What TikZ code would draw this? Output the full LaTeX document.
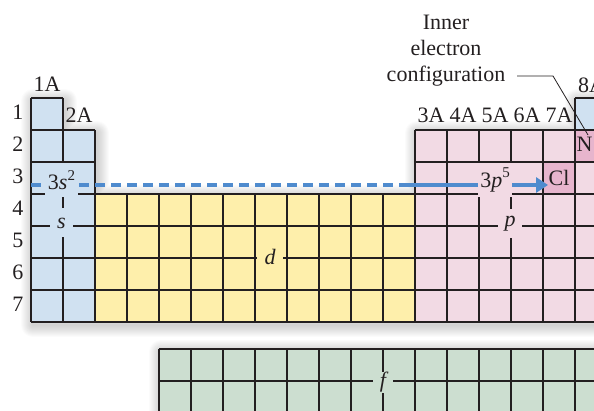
\documentclass[tikz,border=0pt]{standalone}
\usepackage{fontspec}
\setmainfont{Liberation Serif}
\usetikzlibrary{arrows.meta}
\definecolor{sblue}{RGB}{208,225,241}
\definecolor{dyellow}{RGB}{254,239,171}
\definecolor{ppink}{RGB}{242,218,228}
\definecolor{dpink}{RGB}{231,181,205}
\definecolor{fgreen}{RGB}{204,222,208}
\definecolor{arrowblue}{RGB}{79,139,206}
\definecolor{ink}{RGB}{35,31,32}
\tikzset{
  lbl/.style={font=\fontsize{22}{26}\selectfont, text=ink, inner sep=0pt},
  gapbox/.style={lbl, font=\fontsize{22}{26}\selectfont\itshape},
  gridline/.style={draw=ink, line width=1.3pt},
  leader/.style={draw=ink, line width=0.8pt},
  mainshape/.style={insert path={(31,98) -- (63,98) -- (63,130) -- (95,130) -- (95,194) -- (415,194) -- (415,130) -- (575,130) -- (575,98) -- (650,98) -- (650,322) -- (31,322) -- cycle}},
  fshape/.style={insert path={(159,349) -- (650,349) -- (650,440) -- (159,440) -- cycle}},
}
\newcommand{\sups}[1]{\raisebox{0.42em}{\fontsize{15}{15}\selectfont #1}}
\begin{document}
\begin{tikzpicture}[x=1pt,y=-1pt]
\useasboundingbox (0,0) rectangle (594,411);
\clip (0,0) rectangle (594,411);
% soft shadows
\foreach \w in {2,4,...,24}{
  \draw[black, opacity=0.017, line width=\w pt, line join=round, shift={(2,3)}, mainshape];
  \draw[black, opacity=0.017, line width=\w pt, line join=round, shift={(2,3)}, fshape];
}
% block fills
\fill[sblue] (31,98) -- (63,98) -- (63,130) -- (95,130) -- (95,322) -- (31,322) -- cycle;
\fill[dyellow] (95,194) rectangle (415,322);
\fill[ppink] (415,130) rectangle (650,322);
\fill[sblue] (575,98) rectangle (650,130);
\fill[fgreen] (159,349) rectangle (650,440);
% highlighted cells
\node[lbl, fill=dpink, minimum width=32pt, minimum height=32pt] (Cl) at (559,178) {Cl};
\node[fill=dpink, inner sep=0pt, minimum width=32pt, minimum height=32pt] (Ne) at (591,146) {};
\node[lbl, anchor=base west] (Ntext) at (576.5,152) {N};
% grid lines: s block
\draw[gridline] (31,98) -- (63,98);
\draw[gridline] (31,98) -- (31,322);
\draw[gridline] (63,98) -- (63,322);
\draw[gridline] (95,130) -- (95,322);
\foreach \y in {130,162,...,322}{\draw[gridline] (31,\y) -- (95,\y);}
% d block
\foreach \x in {127,159,...,415}{\draw[gridline] (\x,194) -- (\x,322);}
\foreach \y in {194,226,...,322}{\draw[gridline] (95,\y) -- (415,\y);}
% p block
\foreach \x in {415,447,...,575}{\draw[gridline] (\x,130) -- (\x,322);}
\draw[gridline] (575,98) -- (575,130);
\draw[gridline] (607,98) -- (607,322);
\draw[gridline] (575,98) -- (620,98);
\foreach \y in {130,162,...,322}{\draw[gridline] (415,\y) -- (620,\y);}
% f block
\foreach \x in {159,191,...,607}{\draw[gridline] (\x,349) -- (\x,420);}
\foreach \y in {349,381}{\draw[gridline] (159,\y) -- (620,\y);}
% arrow
\coordinate (arrowstart) at (31,185);
\coordinate (dashend) at (405,185);
\coordinate (arrowtip) at (548,185);
\draw[arrowblue, line width=4.5pt, dash pattern=on 10pt off 6pt] (arrowstart) -- (dashend);
\draw[arrowblue, line width=4.5pt, -{Triangle[length=12pt,width=15pt]}] (dashend) -- (arrowtip);
% labels with gaps
\node[lbl, fill=sblue, minimum width=33pt, minimum height=34pt] (s3) at (61.5,180.5) {3\textit{s}\sups{2}};
\node[lbl, fill=ppink, minimum width=34pt, minimum height=34pt] (p3) at (495,180) {3\textit{p}\sups{5}};
\node[gapbox, fill=sblue, minimum width=23pt, minimum height=29pt] (sblk) at (61.5,223) {s};
\node[gapbox, fill=dyellow, minimum width=26pt, minimum height=26pt] (dblk) at (270,257) {d};
\node[gapbox, fill=ppink, minimum width=24pt, minimum height=29pt] (pblk) at (510,223.5) {p};
\node[gapbox, fill=fgreen, minimum width=20pt, minimum height=20pt] (fblk) at (383,382.5) {f};
% group labels
\node[lbl, anchor=base] (g1A) at (47,92) {1A};
\node[lbl, anchor=base] (g2A) at (79,123) {2A};
\node[lbl, anchor=base] (g3A) at (431,123) {3A};
\node[lbl, anchor=base] (g4A) at (463,123) {4A};
\node[lbl, anchor=base] (g5A) at (495,123) {5A};
\node[lbl, anchor=base] (g6A) at (527,123) {6A};
\node[lbl, anchor=base] (g7A) at (559,123) {7A};
\node[lbl, anchor=base west] (g8A) at (578,93) {8A};
% period numbers
\foreach \n in {1,...,7}{
  \node[lbl, anchor=base] (row\n) at (18,{120+32*(\n-1)}) {\n};
}
% inner electron configuration
\node[lbl, anchor=base] (inner) at (446,30) {Inner};
\node[lbl, anchor=base] (electron) at (446,56) {electron};
\node[lbl, anchor=base] (config) at (446,82) {configuration};
\coordinate (ldA) at (517,76);
\coordinate (ldB) at (553,76);
\coordinate (ldC) at (588,135);
\draw[leader] (ldA) -- (ldB) -- (ldC);
\end{tikzpicture}
\end{document}
